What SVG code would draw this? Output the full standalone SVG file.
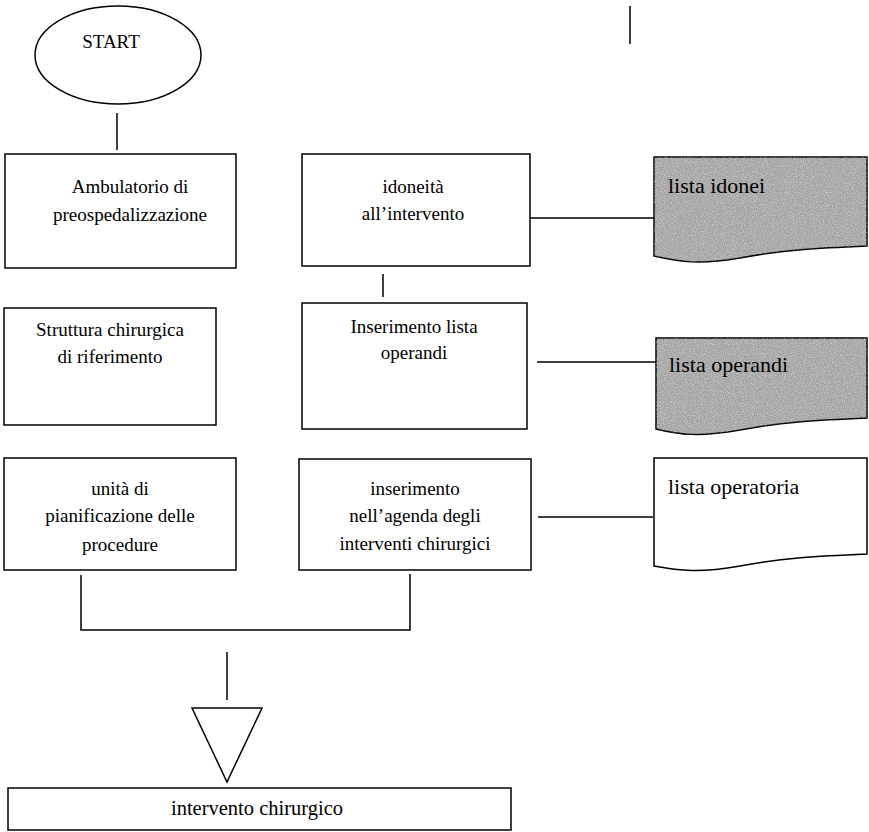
<svg xmlns="http://www.w3.org/2000/svg" width="869" height="832" viewBox="0 0 869 832">
<style>
.b{fill:#fff;stroke:#000;stroke-width:1.5}
.d{fill:#a4a4a4;stroke:#000;stroke-width:1.5}
.w{fill:#fff;stroke:#000;stroke-width:1.5}
.c{fill:none;stroke:#000;stroke-width:1.5}
.t{font-size:19px;fill:#000}
.dt{font-size:22px;fill:#000}
.m{text-anchor:middle}
</style>
<defs>
<filter id="noise" x="0" y="0" width="100%" height="100%">
<feTurbulence type="fractalNoise" baseFrequency="0.9" numOctaves="2" seed="3" result="n"/>
<feColorMatrix in="n" type="matrix" values="0 0 0 0 0  0 0 0 0 0  0 0 0 0 0  0 0 0 -2.2 1.25" result="a"/>
<feComposite in="SourceGraphic" in2="a" operator="in"/>
</filter>
</defs>
<rect width="869" height="832" fill="#fff"/>
<g id="connectors">
<line class="c" x1="117" y1="113" x2="117" y2="150"/>
<line class="c" x1="530" y1="218" x2="654" y2="218"/>
<line class="c" x1="383" y1="274" x2="383" y2="297"/>
<line class="c" x1="537" y1="362" x2="656" y2="362"/>
<line class="c" x1="538" y1="517" x2="653" y2="517"/>
<polyline class="c" points="81,575 81,630 410,630 410,574"/>
<line class="c" x1="227" y1="652" x2="227" y2="700"/>
<line class="c" x1="630" y1="6" x2="630" y2="44"/>
</g>
<g font-family="'Liberation Serif', 'DejaVu Serif', 'Times New Roman', serif">
<g id="start">
<ellipse class="b" cx="118" cy="55" rx="83" ry="49"/>
<text class="t m" x="111" y="48">START</text>
</g>
<g id="ambulatorio">
<rect class="b" x="5" y="154" width="231" height="114"/>
<text class="t m" x="130" y="193">Ambulatorio di</text>
<text class="t m" x="130" y="221">preospedalizzazione</text>
</g>
<g id="idoneita">
<rect class="b" x="302" y="154" width="228" height="112"/>
<text class="t m" x="413" y="193">idoneità</text>
<text class="t m" x="413" y="220">all’intervento</text>
</g>
<g id="lista-idonei">
<path class="d" d="M654,157 H867 V246 C820,248 780,250 740,258 C700,265 680,262 654,256 Z"/>
<path d="M654,157 H867 V246 C820,248 780,250 740,258 C700,265 680,262 654,256 Z" fill="#fff" opacity="0.5" filter="url(#noise)"/>
<text class="dt" x="668" y="193">lista idonei</text>
</g>
<g id="struttura">
<rect class="b" x="4" y="308" width="212" height="117"/>
<text class="t m" x="110" y="336">Struttura chirurgica</text>
<text class="t m" x="110" y="363">di riferimento</text>
</g>
<g id="inserimento-lista">
<rect class="b" x="302" y="303" width="225" height="126"/>
<text class="t m" x="414" y="333">Inserimento lista</text>
<text class="t m" x="414" y="359">operandi</text>
</g>
<g id="lista-operandi">
<path class="d" d="M656,338 H867 V418 C820,420 780,422 740,430 C700,437 680,435 656,429 Z"/>
<path d="M656,338 H867 V418 C820,420 780,422 740,430 C700,437 680,435 656,429 Z" fill="#fff" opacity="0.5" filter="url(#noise)"/>
<text class="dt" x="669" y="372">lista operandi</text>
</g>
<g id="unita">
<rect class="b" x="4" y="458" width="232" height="112"/>
<text class="t m" x="120" y="495">unità di</text>
<text class="t m" x="120" y="522">pianificazione delle</text>
<text class="t m" x="120" y="551">procedure</text>
</g>
<g id="inserimento-agenda">
<rect class="b" x="299" y="459" width="232" height="111"/>
<text class="t m" x="415" y="495">inserimento</text>
<text class="t m" x="415" y="522">nell’agenda degli</text>
<text class="t m" x="415" y="550">interventi chirurgici</text>
</g>
<g id="lista-operatoria">
<path class="w" d="M654,458 H867 V554 C820,556 780,558 740,566 C700,573 680,571 654,566 Z"/>
<text class="dt" x="668" y="494">lista operatoria</text>
</g>
<g id="merge">
<polygon class="b" points="192,708 262,708 227,782"/>
</g>
<g id="intervento">
<rect class="b" x="8" y="788" width="503" height="42"/>
<text class="t m" x="257" y="815" style="font-size:20.5px">intervento chirurgico</text>
</g>
</g>
</svg>
